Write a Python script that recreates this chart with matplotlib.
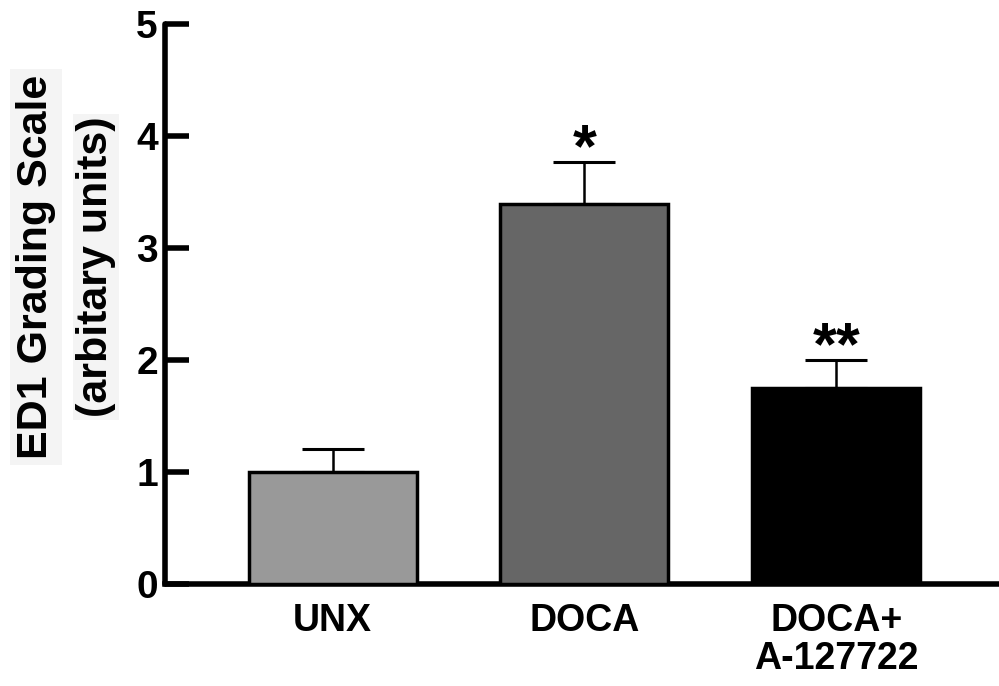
import numpy as np
import matplotlib
matplotlib.use("Agg")
import matplotlib.pyplot as plt

plt.rcParams['font.family'] = ['Liberation Sans', 'DejaVu Sans']

# data
groups = ["UNX", "DOCA", "DOCA+\nA-127722"]
means = [1.0, 3.39, 1.75]
sems = [0.2, 0.38, 0.25]
colors = ["#999999", "#666666", "#000000"]
marks = ["", "*", "**"]

fig = plt.figure(figsize=(9.99, 6.86), dpi=100)
ax = fig.add_axes([0.165, 0.149, 0.835, 0.816])

x = np.arange(len(groups))
ax.bar(x, means, width=0.667, color=colors, edgecolor="black", linewidth=2.5, zorder=3)
ax.errorbar(x, means, yerr=[np.zeros(len(sems)), sems], fmt="none", ecolor="black",
            elinewidth=1.8, capsize=22, capthick=2.2, zorder=2)

for xi, m, s, lab in zip(x, means, sems, marks):
    if lab:
        ax.text(xi, m + s - 0.04, lab, ha="center", va="baseline", fontsize=44, fontweight="bold")

ax.set_xlim(-0.667, 2.647)
ax.set_ylim(0, 5)
ax.set_yticks([0, 1, 2, 3, 4, 5])
ax.set_xticks(x)
ax.set_xticklabels(groups, fontsize=27, fontweight="bold", linespacing=1.05)
ax.tick_params(axis="x", length=0, pad=14)
ax.tick_params(axis="y", direction="in", length=17, width=4, labelsize=28, pad=5)
for t in ax.get_yticklabels():
    t.set_fontweight("bold")

for side in ["top", "right"]:
    ax.spines[side].set_visible(False)
ax.spines["left"].set_linewidth(4)
ax.spines["bottom"].set_linewidth(4)
ax.spines["left"].set_capstyle("round")

# y label: two lines, each with a light background
ylab_y = (686 - 267) / 686
fig.text(36 / 999, ylab_y, "ED1 Grading Scale", rotation=90, ha="center", va="center",
         fontsize=31, fontweight="bold",
         bbox=dict(facecolor="#f4f4f4", edgecolor="none", pad=4))
fig.text(96 / 999, ylab_y, "(arbitary units)", rotation=90, ha="center", va="center",
         fontsize=31, fontweight="bold",
         bbox=dict(facecolor="#f4f4f4", edgecolor="none", pad=2))

fig.savefig("out.png", dpi=100)
